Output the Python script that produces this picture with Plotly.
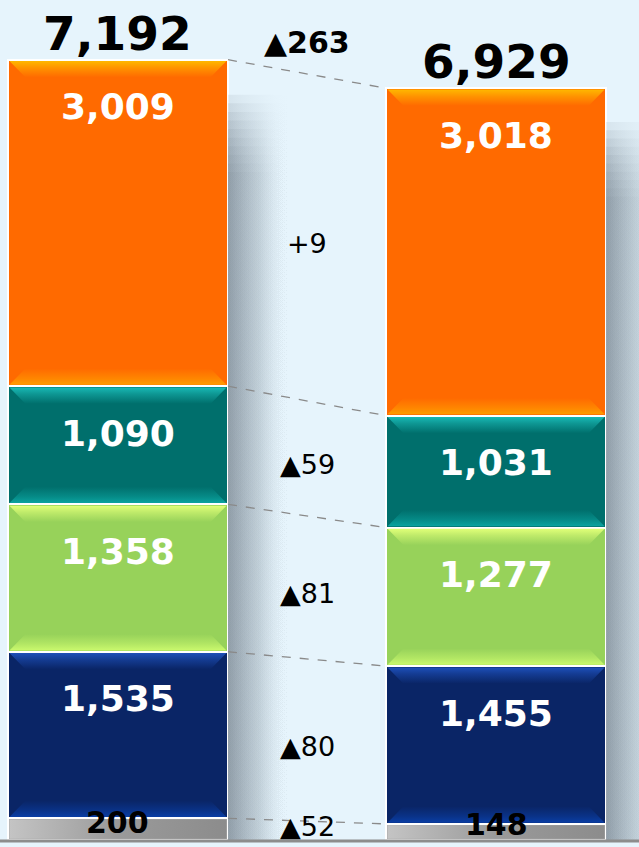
import plotly.graph_objects as go

# ---- data ----
periods = ["before", "after"]
segment_names = ["other", "navy", "green", "teal", "orange"]
before_vals = [200, 1535, 1358, 1090, 3009]
after_vals = [148, 1455, 1277, 1031, 3018]
seg_colors = ["#a9a9a9", "#0a2566", "#97d25a", "#006f6c", "#ff6a00"]
top_bevel = ["#c8c8c8", "#1d4fb8", "#e0ff78", "#19b8b4", "#ffb800"]
bot_bevel = ["#8a8a8a", "#0a3fa8", "#cdfb6e", "#0ba6a2", "#ffa000"]
label_colors = ["black", "white", "white", "white", "white"]

BG = "#e6f4fc"
W = 0.582   # bar width in x units
BH = 150    # bevel band height in y units
BD = 0.042  # bevel inset in x units
xs = [0, 1]

fig = go.Figure()

series = [before_vals, after_vals]
totals = [sum(v) for v in series]


def rgba(hexc, a):
    h = hexc.lstrip("#")
    return "rgba(%d,%d,%d,%s)" % (int(h[0:2], 16), int(h[2:4], 16), int(h[4:6], 16), a)


# soft shadows to the right of each bar (stacked gradient layers)
for xi, tot in zip(xs, totals):
    x0 = xi + W / 2
    x1 = x0 + 0.17
    for k in range(10):
        top = tot * (0.955 - 0.011 * k)
        fig.add_trace(go.Scatter(
            x=[x0, x1, x1, x0, x0], y=[0, 0, top, top, 0],
            mode="lines", line=dict(width=0), fill="toself",
            fillgradient=dict(type="horizontal",
                              colorscale=[[0, "rgba(120,133,145,0.14)"],
                                          [0.5, "rgba(160,175,185,0.07)"],
                                          [1, "rgba(230,244,252,0)"]]),
            hoverinfo="skip", showlegend=False))

# stacked bars
for i, name in enumerate(segment_names):
    fig.add_trace(go.Bar(
        x=xs, y=[before_vals[i], after_vals[i]], name=name,
        width=W, marker=dict(color=seg_colors[i], line=dict(color="white", width=2.5)),
        showlegend=False, hoverinfo="skip"))

# bevel bands on each segment
for xi, vals in zip(xs, series):
    base = 0
    l, r = xi - W / 2 + 0.004, xi + W / 2 - 0.004
    for i, v in enumerate(vals):
        top = base + v - 12
        bot = base + 12
        if i == 0:
            fig.add_trace(go.Scatter(
                x=[l, r, r, l, l], y=[bot, bot, top, top, bot],
                mode="lines", line=dict(width=0), fill="toself",
                fillgradient=dict(type="horizontal",
                                  colorscale=[[0, "#c4c4c4"], [0.5, "#9a9a9a"], [1, "#8c8c8c"]]),
                hoverinfo="skip", showlegend=False))
        else:
            fig.add_trace(go.Scatter(
                x=[l, r, r - BD, l + BD, l], y=[top, top, top - BH, top - BH, top],
                mode="lines", line=dict(width=0), fill="toself",
                fillgradient=dict(type="vertical",
                                  colorscale=[[0, rgba(top_bevel[i], 0)],
                                              [0.6, rgba(top_bevel[i], 0.55)],
                                              [1, rgba(top_bevel[i], 1)]]),
                hoverinfo="skip", showlegend=False))
            fig.add_trace(go.Scatter(
                x=[l, r, r - BD, l + BD, l], y=[bot, bot, bot + BH, bot + BH, bot],
                mode="lines", line=dict(width=0), fill="toself",
                fillgradient=dict(type="vertical",
                                  colorscale=[[0, rgba(bot_bevel[i], 0.95)],
                                              [0.4, rgba(bot_bevel[i], 0.5)],
                                              [1, rgba(bot_bevel[i], 0)]]),
                hoverinfo="skip", showlegend=False))
        base += v

annotations = []
shapes = []

# labels inside bars
for xi, vals in zip(xs, series):
    base = 0
    for i, v in enumerate(vals):
        if i == 0:
            annotations.append(dict(x=xi, y=base + v / 2, text=f"<b>{v:,}</b>",
                                    showarrow=False, yanchor="middle", yshift=7,
                                    font=dict(size=30, color=label_colors[i])))
        else:
            annotations.append(dict(x=xi, y=base + v, text=f"<b>{v:,}</b>",
                                    showarrow=False, yanchor="middle", yshift=-47,
                                    font=dict(size=36, color=label_colors[i])))
        base += v

# totals
for xi, tot in zip(xs, totals):
    annotations.append(dict(x=xi, y=tot, text=f"<b>{tot:,}</b>", showarrow=False,
                            yanchor="bottom", yshift=-3,
                            font=dict(size=47, color="black")))

# dashed connectors and differences
cum_b, cum_a = 0, 0
for i in range(len(segment_names)):
    cb, ca = cum_b, cum_a
    cum_b += before_vals[i]
    cum_a += after_vals[i]
    shapes.append(dict(type="line", x0=xs[0] + W / 2, x1=xs[1] - W / 2,
                       y0=cum_b, y1=cum_a,
                       line=dict(color="#8a8a8a", width=1.3, dash="dash")))
    d = after_vals[i] - before_vals[i]
    txt = f"▲{-d}" if d < 0 else f"+{d}"
    mid = ((cb + cum_b) / 2 + (ca + cum_a) / 2) / 2
    annotations.append(dict(x=0.5, y=mid, text=txt, showarrow=False,
                            yanchor="middle", yshift=4 if i == 0 else -6,
                            font=dict(size=27, color="black")))

dt = totals[1] - totals[0]
annotations.append(dict(x=0.5, y=totals[0], text=f"<b>{'▲' + str(-dt) if dt < 0 else '+' + str(dt)}</b>",
                        showarrow=False, yanchor="bottom", yshift=-2,
                        font=dict(size=30, color="black")))

# baseline
shapes.append(dict(type="line", xref="paper", x0=0, x1=1, y0=-10, y1=-10,
                   line=dict(color="#8c8c8c", width=3)))

fig.update_layout(
    width=639, height=847,
    margin=dict(l=0, r=0, t=0, b=0),
    barmode="stack", bargap=0,
    paper_bgcolor=BG, plot_bgcolor=BG,
    font=dict(family="DejaVu Sans"),
    xaxis=dict(range=[-0.312, 1.378], visible=False, fixedrange=True),
    yaxis=dict(range=[-64.5, 7742], visible=False, fixedrange=True),
    annotations=annotations, shapes=shapes,
)

fig.write_html("out.html", config={"displayModeBar": False},
               post_script="document.body.style.margin='0';document.body.style.background='%s';" % BG)
